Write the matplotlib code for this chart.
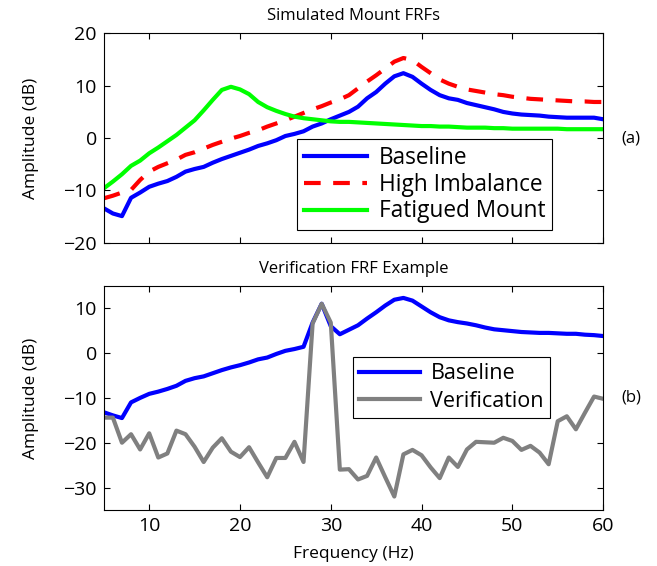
import matplotlib
matplotlib.use("Agg")
import matplotlib.pyplot as plt

plt.rcParams['font.family'] = ['Open Sans', 'DejaVu Sans']

freq = list(range(5, 61))

baseline = [-13.4, -14.4, -14.9, -11.4, -10.4, -9.3, -8.7, -8.2, -7.4, -6.4,
            -5.9, -5.5, -4.7, -4.0, -3.4, -2.8, -2.2, -1.5, -1.0, -0.4,
            0.4, 0.8, 1.3, 2.2, 2.8, 3.6, 4.3, 5.0, 6.0, 7.6,
            8.8, 10.4, 11.8, 12.4, 11.7, 10.4, 9.2, 8.2, 7.6, 7.3,
            6.7, 6.3, 5.9, 5.5, 5.0, 4.7, 4.5, 4.4, 4.3, 4.1,
            4.0, 3.9, 3.9, 3.9, 3.9, 3.6]

high_imbalance = [-11.5, -11.0, -10.4, -9.9, -8.0, -6.4, -5.5, -4.8, -4.1, -3.2,
                  -2.7, -2.0, -1.3, -0.7, -0.1, 0.4, 1.0, 1.5, 2.2, 2.8,
                  3.4, 4.1, 4.8, 5.5, 6.1, 6.8, 7.4, 8.2, 9.5, 10.8,
                  12.0, 13.3, 14.6, 15.3, 14.9, 13.6, 12.4, 11.2, 10.4, 9.8,
                  9.3, 9.0, 8.7, 8.4, 8.2, 7.9, 7.7, 7.5, 7.4, 7.3,
                  7.2, 7.1, 7.0, 7.0, 6.9, 6.9]

fatigued = [-9.6, -8.3, -6.9, -5.3, -4.3, -2.9, -1.8, -0.6, 0.6, 2.0,
            3.4, 5.3, 7.3, 9.2, 9.8, 9.3, 8.4, 6.9, 5.9, 5.2,
            4.6, 4.1, 3.8, 3.6, 3.4, 3.2, 3.1, 3.1, 3.0, 2.9,
            2.8, 2.7, 2.6, 2.5, 2.4, 2.3, 2.3, 2.2, 2.2, 2.1,
            2.0, 2.0, 2.0, 1.9, 1.9, 1.8, 1.8, 1.8, 1.8, 1.8,
            1.8, 1.7, 1.7, 1.7, 1.7, 1.7]

baseline_verif = [-13.2, -13.9, -14.5, -11.0, -10.0, -9.1, -8.6, -8.0, -7.3, -6.2,
                  -5.6, -5.2, -4.5, -3.8, -3.2, -2.7, -2.1, -1.4, -1.0, -0.2,
                  0.5, 0.9, 1.4, 6.8, 11.0, 6.0, 4.2, 5.2, 6.2, 7.7,
                  9.1, 10.6, 11.9, 12.3, 11.7, 10.4, 9.1, 8.0, 7.3, 6.9,
                  6.6, 6.2, 5.7, 5.3, 5.1, 4.9, 4.7, 4.6, 4.5, 4.5,
                  4.4, 4.3, 4.3, 4.1, 4.0, 3.8]

verification = [-14.4, -14.4, -20.0, -18.1, -21.5, -17.9, -23.3, -22.4, -17.3, -18.1,
                -20.9, -24.3, -21.1, -19.0, -22.0, -23.2, -21.0, -24.4, -27.7, -23.4,
                -23.4, -19.8, -24.3, 6.6, 11.0, 6.8, -26.0, -25.9, -28.2, -27.4,
                -23.3, -27.7, -32.0, -22.6, -21.6, -22.8, -25.5, -27.9, -23.3, -25.4,
                -21.5, -19.8, -19.9, -20.0, -18.9, -19.6, -21.6, -20.7, -22.2, -24.8,
                -15.2, -14.1, -17.0, -13.3, -9.7, -10.2]

fig = plt.figure(figsize=(6.57, 5.66), dpi=100)

leg_kw = dict(loc='lower left', borderaxespad=0, fancybox=False,
              edgecolor='black', framealpha=1, handlelength=2.8,
              borderpad=0.3, handletextpad=0.5)

ax1 = fig.add_axes([0.158, 0.571, 0.760, 0.370])
ax1.plot(freq, baseline, color='#0000ff', lw=3, label='Baseline')
ax1.plot(freq, high_imbalance, color='#ff0000', lw=3, ls=(0, (4, 3)), label='High Imbalance')
ax1.plot(freq, fatigued, color='#00ff00', lw=3, label='Fatigued Mount')
ax1.set_xlim(5, 60)
ax1.set_ylim(-20, 20)
ax1.set_yticks([-20, -10, 0, 10, 20])
ax1.set_xticks([10, 20, 30, 40, 50, 60])
ax1.set_xticklabels([])
ax1.set_ylabel('Amplitude (dB)', fontsize=12.5)
ax1.set_title('Simulated Mount FRFs', fontsize=12, pad=10)
leg1 = ax1.legend(bbox_to_anchor=(0.387, 0.06), fontsize=16.3, labelspacing=0.12, **leg_kw)
leg1.get_frame().set_linewidth(0.8)

ax2 = fig.add_axes([0.158, 0.099, 0.760, 0.396])
ax2.plot(freq, baseline_verif, color='#0000ff', lw=3, label='Baseline')
ax2.plot(freq, verification, color='#808080', lw=3, label='Verification')
ax2.set_xlim(5, 60)
ax2.set_ylim(-35, 15)
ax2.set_yticks([-30, -20, -10, 0, 10])
ax2.set_xticks([10, 20, 30, 40, 50, 60])
ax2.set_xlabel('Frequency (Hz)', fontsize=12.5, labelpad=8)
ax2.set_ylabel('Amplitude (dB)', fontsize=12.5)
ax2.set_title('Verification FRF Example', fontsize=12, pad=9)
leg2 = ax2.legend(bbox_to_anchor=(0.499, 0.41), fontsize=15.5, labelspacing=0.3, **leg_kw)
leg2.get_frame().set_linewidth(0.8)

for ax in (ax1, ax2):
    ax.tick_params(direction='in', top=True, right=True, labelsize=14, length=4, pad=5)
    ax.yaxis.set_label_coords(-0.13, 0.5)
    for s in ax.spines.values():
        s.set_linewidth(0.8)

fig.text(0.946, 0.756, '(a)', fontsize=12, va='center')
fig.text(0.946, 0.297, '(b)', fontsize=12, va='center')

fig.savefig('out.png', dpi=100)
